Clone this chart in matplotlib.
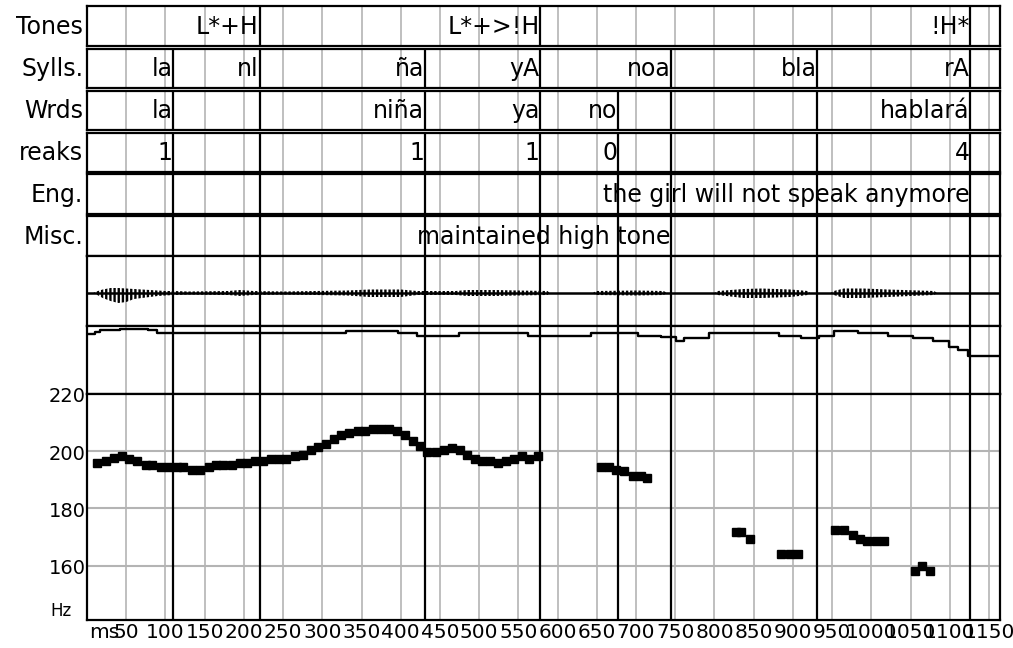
import matplotlib.pyplot as plt
import numpy as np

W, H = 1013, 648
XMAX = 1164  # ms shown across the frame
LEFT, RIGHT = 87, 1000

GRID_MS = list(range(50, 1200, 50))
GRAY = '#b4b4b4'

# annotation tiers: (row label, boundary times in ms, labels ending at each boundary)
tone_bounds = [220, 578, 1126]
tone_labels = ['L*+H', 'L*+>!H', '!H*']
syll_bounds = [110, 220, 431, 578, 745, 931, 1126]
syll_labels = ['la', 'nl', 'ña', 'yA', 'noa', 'bla', 'rA']
word_bounds = [110, 431, 578, 677, 1126]
word_labels = ['la', 'niña', 'ya', 'no', 'hablará']
break_labels = ['1', '1', '1', '0', '4']
eng_bounds = [1126]
eng_labels = ['the girl will not speak anymore']
misc_bounds = [745]
misc_labels = ['maintained high tone']

# f0 track (ms, Hz)
f0_ms = [13, 24, 35, 44, 53, 64, 75, 83, 94, 104,
         115, 123, 134, 144, 155, 164, 174, 185, 195, 204,
         214, 225, 235, 245, 254, 265, 275, 285, 295, 305,
         315, 324, 334, 345, 355, 364, 375, 385, 395, 405,
         415, 425, 434, 445, 455, 465, 475, 485, 495, 504,
         514, 524, 534, 544, 554, 564, 575,
         655, 666, 674, 685, 696, 706, 714,
         828, 834, 845,
         885, 896, 906,
         954, 965, 976, 986, 995, 1006, 1016,
         1056, 1064, 1075]
f0_hz = [196.0, 196.7, 197.5, 198.2, 197.4, 196.7, 195.3, 195.3, 194.5, 194.4,
         194.4, 194.4, 193.6, 193.6, 194.6, 195.3, 195.3, 195.3, 196.0, 196.0,
         196.7, 196.7, 197.4, 197.4, 197.4, 198.2, 198.8, 200.4, 201.3, 202.6,
         204.1, 205.5, 206.2, 207.1, 207.1, 207.8, 207.8, 207.8, 207.1, 205.5,
         203.4, 201.8, 199.6, 199.6, 200.4, 201.2, 200.5, 198.8, 197.4, 196.7,
         196.7, 195.9, 196.7, 197.4, 198.2, 197.4, 198.2,
         194.5, 194.5, 193.6, 193.1, 191.5, 191.5, 190.7,
         171.6, 171.6, 169.3,
         164.2, 164.2, 164.2,
         172.4, 172.4, 170.8, 169.3, 168.6, 168.6, 168.6,
         158.2, 159.8, 158.2]

# waveform envelope (ms, upper, lower amplitude)
wave_ms = [8, 12, 20, 30, 40, 50, 60, 70, 80, 90, 100, 110, 130, 180, 195, 212, 250,
           332, 360, 400, 421, 470, 485, 520, 550, 587, 590,
           645, 649, 700, 735, 740,
           800, 804, 837, 860, 897, 919, 922,
           948, 952, 965, 990, 1021, 1080, 1084]
wave_up = [0, 1.5, 3.5, 5, 5, 4.5, 4, 3.5, 3, 2.5, 2, 2, 1.5, 2, 3, 2, 1.5,
           2.5, 3.5, 3.5, 2, 2, 3, 3, 2.5, 2, 0,
           0, 2, 2.5, 2, 0,
           0, 2, 4, 4.5, 3.5, 2, 0,
           0, 2, 4.5, 4.5, 3.5, 2, 0]
wave_dn = [0, 1.5, 5, 8, 10, 9, 6, 5, 4, 3, 2.5, 2, 1.5, 2, 3, 2, 1.5,
           2.5, 4, 4, 2, 2, 3, 3, 2.5, 2, 0,
           0, 2, 2.5, 2, 0,
           0, 2, 5, 5, 4, 2, 0,
           0, 2, 5, 5, 4, 2, 0]

# energy contour (ms, relative level), stepped
energy_ms = [0, 10, 17, 42, 78, 89, 330, 396, 421, 474, 562, 642, 703, 732, 751, 761,
             793, 882, 910, 933, 952, 983, 1021, 1053, 1079, 1099, 1110, 1123, 1164]
energy_lv = [0.88, 0.91, 0.94, 0.96, 0.94, 0.893, 0.93, 0.893, 0.857, 0.893, 0.857,
             0.893, 0.857, 0.834, 0.784, 0.819, 0.893, 0.857, 0.819, 0.857, 0.926,
             0.893, 0.857, 0.819, 0.78, 0.696, 0.647, 0.559, 0.559]

plt.rcParams['font.family'] = 'DejaVu Sans'
plt.rcParams['hatch.linewidth'] = 1.7
fig = plt.figure(figsize=(W / 100, H / 100), dpi=100)


def px_axes(top, bottom):
    ax = fig.add_axes([LEFT / W, 1 - bottom / H, (RIGHT - LEFT) / W, (bottom - top) / H])
    ax.set_xlim(0, XMAX)
    ax.set_xticks([])
    ax.set_yticks([])
    for s in ax.spines.values():
        s.set_linewidth(1.6)
    return ax


tiers = [
    ('Tones', tone_bounds, tone_labels),
    ('Sylls.', syll_bounds, syll_labels),
    ('Wrds', word_bounds, word_labels),
    ('reaks', word_bounds, break_labels),
    ('Eng.', eng_bounds, eng_labels),
    ('Misc.', misc_bounds, misc_labels),
]
rows = [(6, 46), (49, 88), (91, 130), (133, 172), (174, 214), (216, 256)]

# each tier shows its own boundaries plus those of the tiers above it
seen = set()
all_bounds = set()
for name, b, lab in tiers:
    all_bounds |= set(b)
for (name, bounds, labels), (top, bot) in zip(tiers, rows):
    seen |= set(bounds)
    ax = px_axes(top, bot)
    ax.set_ylim(0, 1)
    ax.vlines(GRID_MS, 0, 1, color=GRAY, lw=1.2, zorder=1)
    ax.vlines(sorted(seen), 0, 1, color='black', lw=1.6, zorder=2)
    for b, lab in zip(bounds, labels):
        ax.text(b - 1, 0.48, lab, ha='right', va='center', fontsize=17, zorder=3)
    ax.text(-0.004, 0.48, name, transform=ax.transAxes, ha='right', va='center', fontsize=17)

bounds_all = sorted(all_bounds)

# waveform
axw = px_axes(256, 326)
axw.set_ylim(-33, 37)
axw.vlines(GRID_MS, -33, 37, color=GRAY, lw=1.2, zorder=1)
axw.vlines(bounds_all, -33, 37, color='black', lw=1.6, zorder=2)
axw.fill_between(wave_ms, [-d for d in wave_dn], wave_up, facecolor='none',
                 edgecolor='black', hatch='||||', lw=0, zorder=3)
axw.axhline(0, color='black', lw=1.8, zorder=4)

# energy contour
axe = px_axes(326, 394)
axe.set_ylim(0, 1)
axe.vlines(GRID_MS, 0, 1, color=GRAY, lw=1.2, zorder=1)
axe.vlines(bounds_all, 0, 1, color='black', lw=1.6, zorder=2)
axe.step(energy_ms, energy_lv, where='post', color='black', lw=1.7, zorder=3)

# pitch panel
axp = px_axes(394, 620)
axp.set_ylim(141, 220)
axp.vlines(GRID_MS, 141, 220, color=GRAY, lw=1.2, zorder=1)
axp.hlines([160, 180, 200], 0, XMAX, color=GRAY, lw=1.5, zorder=1)
axp.vlines(bounds_all, 141, 220, color='black', lw=1.6, zorder=2)
axp.plot(f0_ms, f0_hz, 's', color='black', ms=5.2, zorder=3)
for hz in [220, 200, 180, 160]:
    axp.text(-2, hz - 1, str(hz), ha='right', va='center', fontsize=14)
axp.text(-0.040, 0.0, 'Hz', transform=axp.transAxes, ha='left', va='bottom', fontsize=12)
for t in GRID_MS:
    axp.text(t, 136.5, str(t), ha='center', va='center', fontsize=14.5)
axp.text(22, 136.5, 'ms', ha='center', va='center', fontsize=14.5)

fig.savefig('out.png', dpi=100)
